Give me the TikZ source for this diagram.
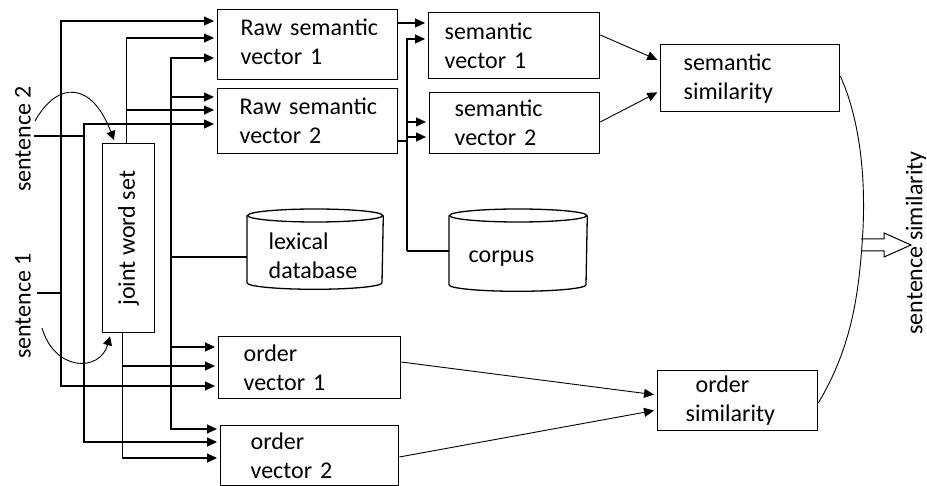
\documentclass[tikz,border=0pt]{standalone}
\usepackage{fontspec}
\setmainfont{Carlito}
\usepackage{graphicx}
\usetikzlibrary{arrows.meta,calc}
\begin{document}
\begin{tikzpicture}[x=1pt,y=-1pt,font=\fontsize{24}{29}\selectfont]
\tikzset{
 box/.style={draw, line width=1.3pt, rectangle, anchor=north west, align=left, inner sep=0pt,
   execute at begin node={\hyphenpenalty=10000\relax}},
 ind/.style={execute at begin node={\leftskip=#1pt\relax}},
 ln/.style={line width=1.2pt},
 arr/.style={line width=1.2pt, -{Triangle[length=10pt,width=9pt]}, shorten >=3pt},
 arrs/.style={line width=0.9pt, -{Triangle[length=10pt,width=9pt]}, shorten >=3pt},
 arrc/.style={line width=0.9pt, -{Triangle[length=9pt,width=9pt]}},
 lab/.style={inner sep=0pt},
 cyl/.style={line width=1.3pt},
}
\useasboundingbox (0,0) rectangle (927,486);

% boxes
\node[box, ind=23, minimum width=180pt, minimum height=70pt, text width=180pt] (rs1) at (217,9) {Raw semantic\\vector 1\vspace*{6pt}};
\node[box, ind=22, minimum width=180pt, minimum height=65pt, text width=180pt] (rs2) at (217,88) {Raw semantic\\vector 2};
\node[box, ind=16, minimum width=171pt, minimum height=66pt, text width=171pt] (sv1) at (428,12) {semantic\\vector 1};
\node[box, ind=25, minimum width=170pt, minimum height=61pt, text width=170pt] (sv2) at (429,92) {semantic\\vector 2};
\node[box, ind=23, minimum width=179pt, minimum height=67pt, text width=179pt] (ss) at (660,44) {semantic\\similarity};
\node[box, ind=28, minimum width=160pt, minimum height=60pt, text width=160pt] (os) at (657,370) {\hspace*{10pt}order\\similarity};
\node[box, ind=25, minimum width=182pt, minimum height=62pt, text width=182pt] (ov1) at (218,336) {order\\vector 1};
\node[box, ind=30, minimum width=178pt, minimum height=60pt, text width=178pt] (ov2) at (220,425) {order\\vector 2};
\node[draw, line width=1.3pt, anchor=north west, minimum width=52pt, minimum height=189pt, inner sep=0pt] (jws) at (102,143) {\rotatebox{90}{joint word set}};

% cylinders
\node[box, draw=none, ind=21, minimum width=135pt, minimum height=65pt, text width=135pt] (lex) at (247,223) {lexical\\database};
\draw[cyl] ($(lex.north west)+(0,-7.5)$) -- ($(lex.south west)+(0,-6.5)$) arc[start angle=180, end angle=360, x radius=67.5pt, y radius=6.5pt] -- ($(lex.north east)+(0,-7.5)$);
\draw[cyl] ($(lex.north)+(0,-7.5)$) ellipse [x radius=67.5pt, y radius=6.5pt];
\node[box, draw=none, ind=19, minimum width=137pt, minimum height=65pt, text width=137pt] (cor) at (449,225) {corpus};
\draw[cyl] ($(cor.north west)+(0,-9.5)$) -- ($(cor.south west)+(0,-6.5)$) arc[start angle=180, end angle=360, x radius=68.5pt, y radius=6.5pt] -- ($(cor.north east)+(0,-9.5)$);
\draw[cyl] ($(cor.north)+(0,-9.5)$) ellipse [x radius=68.5pt, y radius=6.5pt];

% labels
\node[lab] (s2) at (23,139) {\rotatebox{90}{sentence 2}};
\node[lab] (s1) at (23,306) {\rotatebox{90}{sentence 1}};
\node[lab] (ssim) at (916,243) {\rotatebox{90}{sentence similarity}};

% sentence 1 bus
\coordinate (s1o) at (37,293);
\coordinate (b1) at (61,293);
\draw[ln] (s1o) -- (b1);
\draw[arr] (b1) |- ($(rs1.north west)+(0,12)$);
\draw[arr] (b1) |- ($(ov1.north west)+(0,50)$);

% sentence 2 bus
\coordinate (s2o) at (34,136);
\coordinate (b2) at (84,136);
\draw[ln] (s2o) -- (b2);
\draw[arr] (b2) |- ($(rs2.north west)+(0,36)$);
\draw[arr] (b2) |- ($(ov2.north west)+(0,17)$);

% joint word set
\coordinate (jt) at ($(jws.north)+(-2,0)$);
\draw[arr] (jt) |- ($(rs1.north west)+(0,29)$);
\draw[arr] (jt) |- ($(rs2.north west)+(0,22)$);
\coordinate (jb) at ($(jws.south)+(-6,0)$);
\draw[arr] (jb) |- ($(ov1.north west)+(0,30)$);
\draw[arr] (jb) |- ($(ov2.north west)+(0,33)$);

% lexical database bus
\coordinate (lb) at (171,257);
\draw[ln] ($(lex.north west)+(0,34)$) -- (lb);
\draw[arr] (lb) |- ($(rs1.north west)+(0,49)$);
\draw[arr] (lb) |- ($(rs2.north west)+(0,9)$);
\draw[arr] (lb) |- ($(ov1.north west)+(0,11)$);
\draw[arr] (lb) |- ($(ov2.north west)+(0,4)$);

% corpus bus
\coordinate (cb) at (407,251);
\draw[ln] ($(cor.north west)+(0,26)$) -- (cb);
\draw[arr] (cb) |- ($(sv1.north west)+(0,27)$);
\draw[arr] (cb) |- ($(sv2.north west)+(0,30)$);

% raw -> semantic vectors
\draw[arr] ($(rs1.north east)+(0,14)$) -- ($(sv1.north west)+(0,11)$);
\draw[arr] ($(rs2.north east)+(0,53)$) -- ++(8,0) |- ($(sv2.north west)+(0,45)$);

% vectors -> similarities
\draw[arrs] ($(sv1.north east)+(0,23)$) -- ($(ss.north west)+(0,17)$);
\draw[arrs] ($(sv2.north east)+(0,30)$) -- ($(ss.north west)+(0,47)$);
\draw[arrs] ($(ov1.north east)+(0,26)$) -- ($(os.north west)+(0,25)$);
\draw[arrs] ($(ov2.north east)+(0,32)$) -- ($(os.north west)+(0,40)$);

% sentence curves into joint word set
\coordinate (s2c) at (35,121);
\draw[arrc] (s2c) .. controls (58,80) and (92,82) .. ($(jws.north west)+(12,-3)$);
\coordinate (s1c) at (42,328);
\draw[arrc] (s1c) .. controls (55,372) and (100,372) .. ($(jws.south west)+(8,3)$);

% bracket and hollow arrow
\draw[line width=0.9pt] ($(ss.north east)+(0,32)$) .. controls (860,120) and (867,180) .. (862,245) .. controls (858,300) and (850,350) .. ($(os.north east)+(0,33)$);
\coordinate (brk) at (861,245);
\draw[line width=1pt] (brk) ++(0,-6) -- ++(23,0) -- ++(0,-6) -- ++(27,12) -- ++(-27,12) -- ++(0,-6) -- ++(-23,0);
\end{tikzpicture}
\end{document}
